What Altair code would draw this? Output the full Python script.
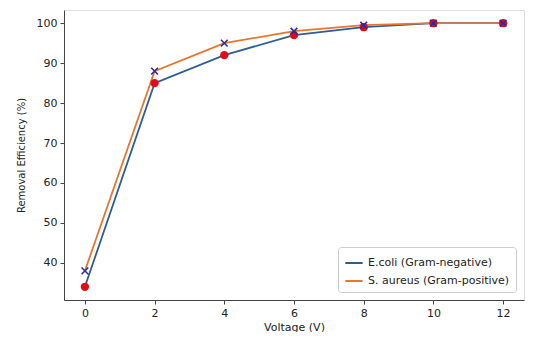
import altair as alt
import pandas as pd

voltage = [0, 2, 4, 6, 8, 10, 12]
ecoli = [34, 85, 92, 97, 99, 100, 100]
saureus = [38, 88, 95, 98, 99.5, 100, 100]
series_names = ["E.coli (Gram-negative)", "S. aureus (Gram-positive)"]
line_colors = ["#2f5d92", "#e8762c"]

rows = []
for v, a, b in zip(voltage, ecoli, saureus):
    rows.append({"Voltage": v, "Eff": a, "Series": series_names[0]})
    rows.append({"Voltage": v, "Eff": b, "Series": series_names[1]})
df = pd.DataFrame(rows)

font = "DejaVu Sans"
x = alt.X("Voltage:Q", title="Voltage (V)",
          scale=alt.Scale(domain=[-0.6, 12.6], nice=False, zero=False),
          axis=alt.Axis(values=voltage, grid=False, tickSize=4, labelFontSize=11,
                        titleFontSize=11, labelFont=font, titleFont=font,
                        domainColor="#444", tickColor="#444", labelColor="#222",
                        titleColor="#222", titleFontWeight="normal", labelPadding=3,
                        titlePadding=3))
y = alt.Y("Eff:Q", title="Removal Efficiency (%)",
          scale=alt.Scale(domain=[30.7, 103.3], nice=False, zero=False),
          axis=alt.Axis(values=[40, 50, 60, 70, 80, 90, 100], grid=False, tickSize=4,
                        labelFontSize=11, titleFontSize=10, labelFont=font, titleFont=font,
                        domainColor="#444", tickColor="#444", labelColor="#222",
                        titleColor="#222", titleFontWeight="normal", labelPadding=3,
                        titlePadding=10))

lines = alt.Chart(df).mark_line(strokeWidth=1.8).encode(
    x=x, y=y,
    color=alt.Color("Series:N", scale=alt.Scale(domain=series_names, range=line_colors),
                    legend=alt.Legend(title=None, orient="bottom-right", symbolType="stroke",
                                      symbolStrokeWidth=2, symbolSize=300, labelFontSize=11,
                                      labelFont=font, labelColor="#222",
                                      fillColor="white", strokeColor="#ccc", padding=6,
                                      cornerRadius=3, offset=8, rowPadding=3)),
)

pts_e = alt.Chart(df[df.Series == series_names[0]]).mark_point(
    shape="circle", filled=True, color="#dd0d1a", size=70, opacity=1
).encode(x=x, y=y)

pts_s = alt.Chart(df[df.Series == series_names[1]]).mark_point(
    shape="M-1,-1L1,1M-1,1L1,-1", filled=False, color="#2a2aa8", size=45,
    strokeWidth=1.6, opacity=1
).encode(x=x, y=y)

chart = alt.layer(lines, pts_e, pts_s).properties(
    width=517, height=324,
    autosize=alt.AutoSizeParams(type="fit", contains="padding"),
    padding={"left": 8, "top": 2, "right": 1, "bottom": 0}
).configure_view(stroke="#555", strokeWidth=1.2).configure(background="white")

chart.save("out.html", embed_options={"renderer": "svg", "actions": False})
